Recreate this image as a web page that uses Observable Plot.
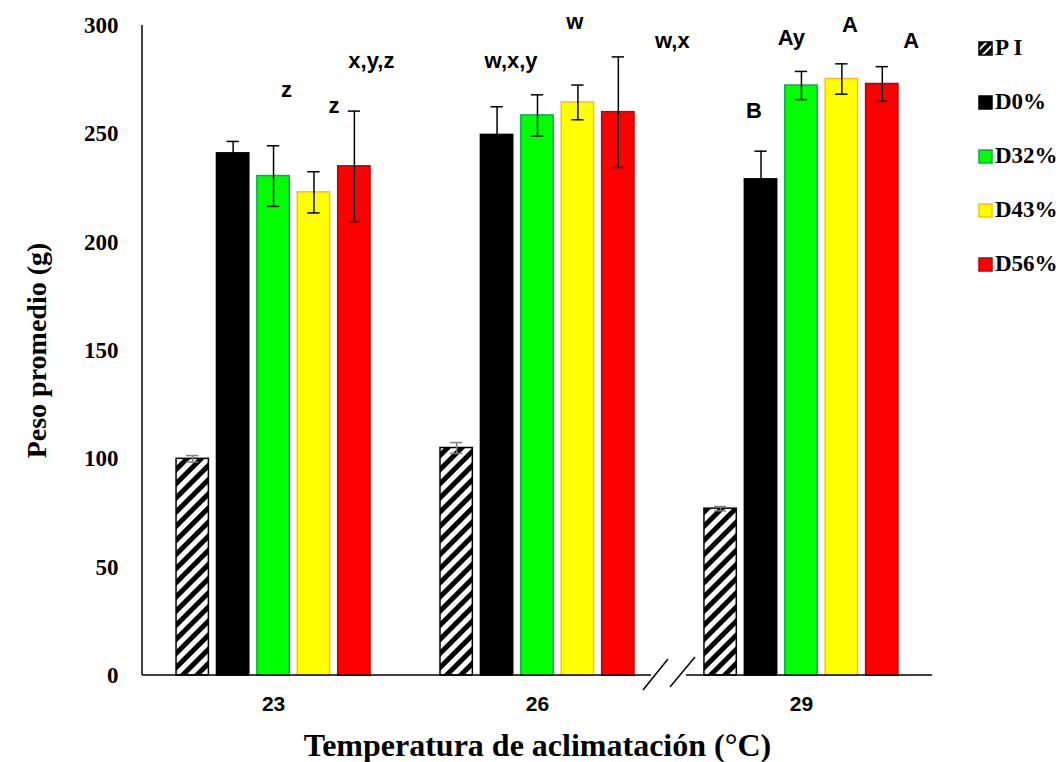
<!DOCTYPE html>
<html>
<head>
<meta charset="utf-8">
<script src="https://cdn.jsdelivr.net/npm/d3@7"></script>
<script src="https://cdn.jsdelivr.net/npm/@observablehq/plot@0.6"></script>
<style>
  html, body { margin: 0; padding: 0; background: #fff; }
  #wrap { position: relative; width: 1063px; height: 762px; }
  #legend { position: absolute; left: 978px; top: 0; font: bold 23px "Liberation Serif", serif; color: #000; }
  #legend .row { position: absolute; left: 0; display: flex; align-items: center; white-space: nowrap; height: 24px; }
  #legend svg { margin-right: 2px; }
  g[aria-label="y-axis tick label"] { font: bold 23px "Liberation Serif", serif; }
  g[aria-label="y-axis label"] { font: bold 28px "Liberation Serif", serif; }
  g[aria-label="fx-axis tick label"] { font: bold 21px "Liberation Sans", Arial, sans-serif; }
  g[aria-label="fx-axis label"] { font: bold 32px "Liberation Serif", serif; }
</style>
</head>
<body>
<div id="wrap">
  <div id="chart"></div>
  <div id="legend"></div>
</div>
<script>
// ---- data ----
const temps = ["23", "26", "29"];
const series = ["PI", "D0", "D32", "D43", "D56"];
const seriesLabels = ["P I", "D0%", "D32%", "D43%", "D56%"];
const means23 = [100, 241, 230.5, 223, 235];
const means26 = [105, 249.5, 258.5, 264.5, 260];
const means29 = [77, 229, 272.3, 275.3, 273];
const errs23 = [1.5, 5.5, 14, 9.5, 25.5];
const errs26 = [2.5, 13, 9.5, 8, 25.5];
const errs29 = [1, 13, 6.5, 7, 8];
const yTicks = [0, 50, 100, 150, 200, 250, 300];
const letterTemps = ["23", "23", "23", "26", "26", "26", "29", "29", "29", "29"];
const letterSeries = ["D32", "D43", "D56", "D0", "D43", "D56", "D0", "D32", "D43", "D56"];
const letterTexts = ["z", "z", "x,y,z", "w,x,y", "w", "w,x", "B", "Ay", "A", "A"];
const letterY = [266.8, 259.8, 280.2, 280.6, 298.6, 289.4, 257.5, 290.8, 296.8, 289.4];

// ---- styles / layout ----
const fills = ["url(#hatch)", "#000000", "#00ff00", "#ffff00", "#ff0000"];
const strokes = ["#000000", "#000000", "#00b050", "#ffc000", "#c00000"];
const letterDx = [13, 20, 17, 14, -3, 54, -7, -10, 8, 29];

const meansAll = [means23, means26, means29];
const errsAll = [errs23, errs26, errs29];
const data = temps.flatMap((t, i) => series.map((s, j) => ({
  temp: t, series: s, mean: meansAll[i][j], err: errsAll[i][j]
})));
const letters = letterTexts.map((txt, k) => ({
  temp: letterTemps[k], series: letterSeries[k], label: txt, pos: letterY[k]
}));
const strokeOf = Object.fromEntries(series.map((s, i) => [s, strokes[i]]));

const letterMarks = letters.map((l, k) => Plot.text([l], {
  fx: "temp", x: "series", y: "pos", text: "label", dx: letterDx[k],
  lineAnchor: "bottom", fontSize: 22, fontWeight: "bold",
  fontFamily: "Liberation Sans, Arial, sans-serif", fill: "#000"
}));

const plot = Plot.plot({
  width: 1063, height: 762,
  marginLeft: 142, marginRight: 131, marginTop: 25, marginBottom: 87,
  style: { fontFamily: "Liberation Serif, serif", background: "#fff" },
  fx: { domain: temps, paddingInner: 0.265, paddingOuter: 0.129, round: false },
  x: { domain: series, paddingInner: 0.2, paddingOuter: 0, round: false, axis: null },
  y: { domain: [0, 300] },
  color: { domain: series, range: fills },
  marks: [
    Plot.axisY({ ticks: yTicks, tickSize: 0, tickPadding: 58, label: "Peso promedio (g)",
      labelArrow: "none", labelAnchor: "center", labelOffset: 150,
      fontSize: 23, fontWeight: "bold" }),
    Plot.axisFx({ anchor: "bottom", tickSize: 0, tickPadding: 21,
      label: "Temperatura de aclimatación (°C)", labelArrow: "none", labelAnchor: "center", labelOffset: 80 }),
    Plot.barY(data, { fx: "temp", x: "series", y: "mean", fill: "series",
      stroke: d => strokeOf[d.series], strokeWidth: 1.5 }),
    Plot.ruleX(data, { fx: "temp", x: "series", y1: d => d.mean - d.err, y2: d => d.mean + d.err,
      stroke: d => d.series === "PI" ? "#7f7f7f" : "#000000", strokeWidth: 1.5 }),
    Plot.tickY(data, { fx: "temp", x: "series", y: d => d.mean - d.err, insetLeft: 10, insetRight: 10,
      stroke: d => d.series === "PI" ? "#7f7f7f" : "#000000", strokeWidth: 1.5 }),
    Plot.tickY(data, { fx: "temp", x: "series", y: d => d.mean + d.err, insetLeft: 10, insetRight: 10,
      stroke: d => d.series === "PI" ? "#7f7f7f" : "#000000", strokeWidth: 1.5 }),
    ...letterMarks
  ]
});

// hatch pattern
const svg = d3.select(plot);
const defs = svg.insert("defs", ":first-child");
const pat = defs.append("pattern").attr("id", "hatch").attr("patternUnits", "userSpaceOnUse")
  .attr("width", 10).attr("height", 10).attr("patternTransform", "rotate(45)");
pat.append("rect").attr("width", 10).attr("height", 10).attr("fill", "#fff");
pat.append("rect").attr("width", 5).attr("height", 10).attr("fill", "#000");

// axis lines with break
const ys = plot.scale("y"), fxs = plot.scale("fx");
const y0 = ys.apply(0), yTop = ys.apply(300);
const xL = 142, xR = 1063 - 131;
const m = (fxs.apply("26") + fxs.bandwidth + fxs.apply("29")) / 2;
const ax = svg.append("g").attr("stroke", "#000").attr("stroke-width", 1.5).attr("fill", "none");
ax.append("line").attr("x1", xL).attr("x2", xL).attr("y1", yTop).attr("y2", y0);
ax.append("line").attr("x1", xL).attr("x2", m - 18).attr("y1", y0).attr("y2", y0);
ax.append("line").attr("x1", m + 17).attr("x2", xR).attr("y1", y0).attr("y2", y0);
ax.append("line").attr("x1", m - 26).attr("y1", y0 + 15).attr("x2", m - 1).attr("y2", y0 - 16);
ax.append("line").attr("x1", m + 1).attr("y1", y0 + 12).attr("x2", m + 26).attr("y2", y0 - 18);

document.getElementById("chart").appendChild(plot);

// legend
const legend = document.getElementById("legend");
series.forEach((s, i) => {
  const row = document.createElement("div");
  row.className = "row";
  row.style.top = (36 + i * 54) + "px";
  const sw = i === 0
    ? `<svg width="15" height="15"><defs><pattern id="hatchL" patternUnits="userSpaceOnUse" width="6" height="6" patternTransform="rotate(45)"><rect width="6" height="6" fill="#000"/><rect width="2" height="6" fill="#fff"/></pattern></defs><rect x="1" y="1" width="13" height="13" fill="url(#hatchL)" stroke="#000" stroke-width="1.5"/></svg>`
    : `<svg width="15" height="15"><rect x="1" y="1" width="13" height="13" fill="${fills[i]}" stroke="${strokes[i]}" stroke-width="1.5"/></svg>`;
  row.innerHTML = sw + `<span>${seriesLabels[i]}</span>`;
  legend.appendChild(row);
});
</script>
</body>
</html>
